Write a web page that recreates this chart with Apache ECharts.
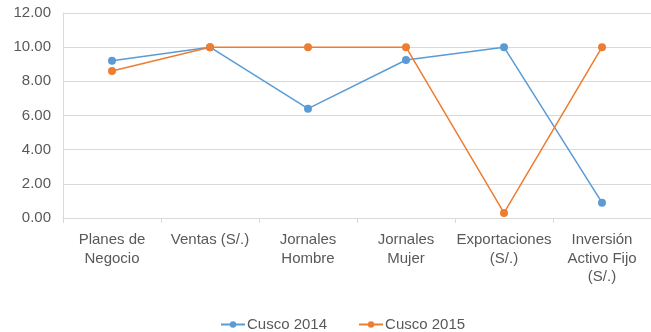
<!DOCTYPE html>
<html><head><meta charset="utf-8">
<script src="https://cdn.jsdelivr.net/npm/echarts@6/dist/echarts.min.js"></script>
<style>html,body{margin:0;padding:0;background:#fff}#c{width:651px;height:332px}</style>
</head><body><div id="c"></div>
<script>
const categories = ["Planes de\nNegocio", "Ventas (S/.)", "Jornales\nHombre", "Jornales\nMujer", "Exportaciones\n(S/.)", "Inversión\nActivo Fijo\n(S/.)"];
const cusco2014 = [9.2, 10, 6.4, 9.25, 10, 0.9];
const cusco2015 = [8.6, 10, 10, 10, 0.3, 10];
const yTicks = [0, 2, 4, 6, 8, 10, 12];

const chart = echarts.init(document.getElementById('c'), null, {renderer: 'canvas'});
const font = 'Liberation Sans, Arial, sans-serif';
chart.setOption({
  animation: false,
  grid: {left: 63, right: 0, top: 13, bottom: 114, containLabel: false},
  legend: {
    top: 312, left: 215, itemGap: 31, itemWidth: 24, itemHeight: 8,
    textStyle: {color: '#595959', fontSize: 15, fontFamily: font, padding: [0, 0, 0, -3]},
    data: ['Cusco 2014', 'Cusco 2015']
  },
  xAxis: {
    type: 'category', data: categories, boundaryGap: true,
    axisLine: {lineStyle: {color: '#d9d9d9'}},
    axisTick: {show: true, length: 5, lineStyle: {color: '#d9d9d9'}},
    axisLabel: {color: '#595959', fontSize: 15, fontFamily: font, lineHeight: 18.5, margin: 13, interval: 0}
  },
  yAxis: {
    type: 'value', min: yTicks[0], max: yTicks[yTicks.length - 1], interval: 2,
    axisLine: {show: true, lineStyle: {color: '#d9d9d9'}},
    axisTick: {show: false},
    splitLine: {lineStyle: {color: '#d9d9d9'}},
    axisLabel: {color: '#595959', fontSize: 15, fontFamily: font, margin: 12, formatter: v => v.toFixed(2)}
  },
  series: [
    {name: 'Cusco 2014', type: 'line', data: cusco2014, symbol: 'circle', symbolSize: 8,
     itemStyle: {color: '#5B9BD5'}, lineStyle: {color: '#5B9BD5', width: 1.5}},
    {name: 'Cusco 2015', type: 'line', data: cusco2015, symbol: 'circle', symbolSize: 8,
     itemStyle: {color: '#ED7D31'}, lineStyle: {color: '#ED7D31', width: 1.5}}
  ]
});
</script></body></html>
